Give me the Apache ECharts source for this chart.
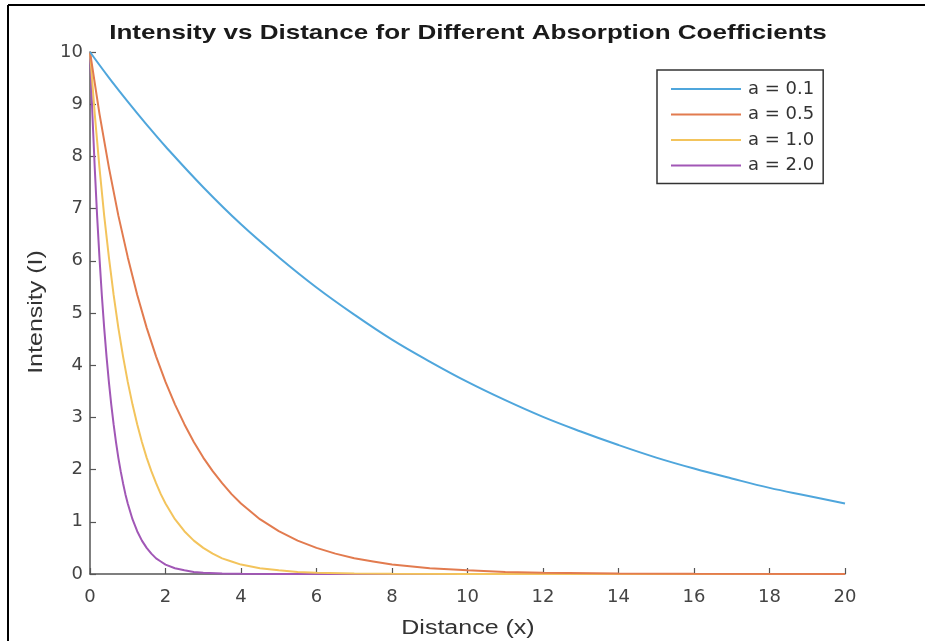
<!DOCTYPE html>
<html>
<head>
<meta charset="utf-8">
<script src="https://cdn.jsdelivr.net/npm/echarts@6/dist/echarts.min.js"></script>
<style>html,body{margin:0;padding:0;background:#fff}#c{width:925px;height:641px}</style>
</head>
<body>
<div id="c"></div>
<script>
// Data
const x01 = [0,0.5,1,1.5,2,3,4,5,6,7,8,9,10,11,12,13,14,15,16,17,18,19,20];
const y01 = [10,9.51,9.05,8.61,8.19,7.41,6.70,6.07,5.49,4.97,4.49,4.07,3.68,3.33,3.01,2.73,2.47,2.23,2.02,1.83,1.65,1.50,1.35];

const x05 = [0,0.25,0.5,0.75,1,1.25,1.5,1.75,2,2.25,2.5,2.75,3,3.25,3.5,3.75,4,4.5,5,5.5,6,6.5,7,7.5,8,9,10,11,12,14,16,20];
const y05 = [10,8.82,7.79,6.87,6.07,5.35,4.72,4.17,3.68,3.25,2.87,2.53,2.23,1.97,1.74,1.53,1.35,1.05,0.82,0.64,0.50,0.39,0.30,0.24,0.18,0.11,0.07,0.04,0.025,0.009,0.003,0];

const x10 = [0,0.125,0.25,0.375,0.5,0.625,0.75,0.875,1,1.125,1.25,1.375,1.5,1.625,1.75,1.875,2,2.25,2.5,2.75,3,3.25,3.5,3.75,4,4.5,5,5.5,6,7,8,10,20];
const y10 = [10,8.82,7.79,6.87,6.07,5.35,4.72,4.17,3.68,3.25,2.87,2.53,2.23,1.97,1.74,1.53,1.35,1.05,0.82,0.64,0.50,0.39,0.30,0.24,0.18,0.11,0.07,0.04,0.025,0.009,0.003,0.0005,0];

const x20 = [0,0.0625,0.125,0.1875,0.25,0.3125,0.375,0.4375,0.5,0.5625,0.625,0.6875,0.75,0.8125,0.875,0.9375,1,1.125,1.25,1.375,1.5,1.625,1.75,1.875,2,2.25,2.5,2.75,3,3.5,4,5,20];
const y20 = [10,8.82,7.79,6.87,6.07,5.35,4.72,4.17,3.68,3.25,2.87,2.53,2.23,1.97,1.74,1.53,1.35,1.05,0.82,0.64,0.50,0.39,0.30,0.24,0.18,0.11,0.07,0.04,0.025,0.009,0.003,0.0005,0];

const names = ['a = 0.1','a = 0.5','a = 1.0','a = 2.0'];
const colors = ['#4fa6dc','#e27b4f','#f3c45c','#a157b6'];
const xTicks = [0,2,4,6,8,10,12,14,16,18,20];
const yTicks = [0,1,2,3,4,5,6,7,8,9,10];
const titleText = 'Intensity vs Distance for Different Absorption Coefficients';
const xName = 'Distance (x)';
const yName = 'Intensity (I)';

const pairs = (xs, ys) => xs.map((x, i) => [x, ys[i]]);
const allX = [x01, x05, x10, x20];
const allY = [y01, y05, y10, y20];

const chart = echarts.init(document.getElementById('c'), null, {renderer: 'canvas'});
const dv = '"DejaVu Sans", sans-serif';
chart.setOption({
  backgroundColor: '#fff',
  animation: false,
  grid: {left: 90, right: 80, top: 52, bottom: 67, containLabel: false},
  legend: {
    orient: 'vertical', left: 657, top: 70,
    padding: [10, 9, 9, 14],
    borderColor: '#333', borderWidth: 1.5, borderRadius: 0,
    icon: 'rect',
    itemWidth: 70, itemHeight: 2, itemGap: 7.5,
    textStyle: {fontFamily: dv, fontSize: 18, color: '#333', lineHeight: 18, padding: [0, 0, 0, 2]},
    data: names
  },
  xAxis: {
    type: 'value', min: 0, max: 20, interval: 2,
    axisLine: {show: true, lineStyle: {color: '#555', width: 1.5}},
    axisTick: {show: true, inside: true, length: 6, lineStyle: {color: '#555', width: 1.2}},
    axisLabel: {fontFamily: dv, fontSize: 18, color: '#444', margin: 14,
      formatter: v => xTicks.includes(v) ? String(v) : ''},
    splitLine: {show: false}
  },
  yAxis: {
    type: 'value', min: 0, max: 10, interval: 1,
    axisLine: {show: true, lineStyle: {color: '#555', width: 1.5}},
    axisTick: {show: true, inside: true, length: 6, lineStyle: {color: '#555', width: 1.2}},
    axisLabel: {fontFamily: dv, fontSize: 18, color: '#444', margin: 7,
      formatter: v => yTicks.includes(v) ? String(v) : ''},
    splitLine: {show: false}
  },
  series: names.map((n, i) => ({
    name: n, type: 'line', symbol: 'none', smooth: i === 0 ? 0.4 : false,
    color: colors[i],
    itemStyle: {color: colors[i]},
    lineStyle: {color: colors[i], width: 2},
    data: pairs(allX[i], allY[i]),
    z: 4 - i
  })),
  graphic: [
    {type: 'line', shape: {x1: 8, y1: 5, x2: 925, y2: 5}, style: {stroke: '#000', lineWidth: 2}},
    {type: 'line', shape: {x1: 8, y1: 5, x2: 8, y2: 641}, style: {stroke: '#000', lineWidth: 2}},
    {type: 'text', x: 468, y: 33, scaleX: 1.24, scaleY: 1,
      style: {text: titleText, font: 'bold 21px "Liberation Sans", Arial, sans-serif', fill: '#1a1a1a', textAlign: 'center', textVerticalAlign: 'middle'}},
    {type: 'text', x: 468, y: 628, scaleX: 1.25, scaleY: 1,
      style: {text: xName, font: '20px "Liberation Sans", Arial, sans-serif', fill: '#333', textAlign: 'center', textVerticalAlign: 'middle'}},
    {type: 'text', x: 36, y: 312, rotation: Math.PI / 2, scaleX: 1.25, scaleY: 1,
      style: {text: yName, font: '20px "Liberation Sans", Arial, sans-serif', fill: '#333', textAlign: 'center', textVerticalAlign: 'middle'}}
  ]
});
</script>
</body>
</html>
